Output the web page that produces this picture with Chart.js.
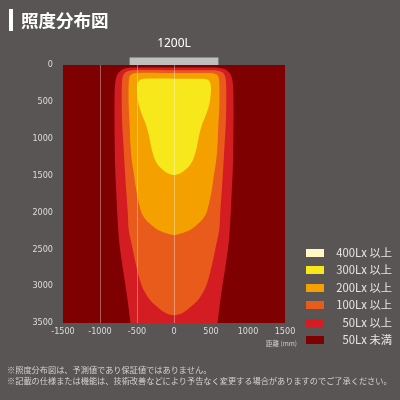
<!DOCTYPE html>
<html lang="ja">
<head>
  <meta charset="UTF-8" />
  <title>照度分布図</title>
  <script src="https://cdn.jsdelivr.net/npm/chart.js"></script>
  <style>
    html, body { margin: 0; padding: 0; }
    body { width: 400px; height: 400px; background: #595554; position: relative; overflow: hidden;
           font-family: "Noto Sans CJK JP", "Noto Sans", sans-serif; }
    #grafico { position: absolute; left: 0; top: 0; }
    .titulo { position: absolute; left: 9px; top: 9px; height: 22px; border-left: 4px solid #fff;
              padding-left: 8px; color: #fff; font-weight: bold; font-size: 17.5px; line-height: 22px; }
    .legenda { position: absolute; left: 306px; top: 248px; width: 86px; }
    .legenda .item { position: relative; height: 17.4px; }
    .legenda .cor { position: absolute; left: 0; top: 1px; width: 18px; height: 8px; }
    .legenda .txt { position: absolute; right: 0; top: -3px; color: #e6e6e6; font-size: 11.3px; line-height: 14px; white-space: nowrap; }
    .unidade { position: absolute; left: 266px; top: 338px; color: #cfcfcf; font-size: 6.5px; }
    .notas { position: absolute; left: 7px; top: 364px; color: #d2d2d2; font-size: 8.2px; line-height: 11px; white-space: nowrap; }
  </style>
</head>
<body>
  <canvas id="grafico" width="400" height="400"></canvas>
  <div class="titulo">照度分布図</div>
  <div class="legenda" id="legenda"></div>
  <div class="unidade">距離 (mm)</div>
  <div class="notas">
    ※照度分布図は、予測値であり保証値ではありません。<br>
    ※記載の仕様または機能は、技術改善などにより予告なく変更する場合がありますのでご了承ください。
  </div>

  <script>
    // eixos
    const xTicks = [-1500, -1000, -500, 0, 500, 1000, 1500];
    const yTicks = [0, 500, 1000, 1500, 2000, 2500, 3000, 3500];
    const xGridLines = [-1000, -500, 0];
    const lampWidth = 1200;
    const lampLabel = '1200L';

    // contornos (meia largura em mm por profundidade em mm)
    const lux300Y = [185, 185, 200, 250, 330, 450, 560, 680, 790, 930, 1050, 1150, 1280, 1360, 1430, 1475, 1492];
    const lux300W = [0, 400, 460, 492, 500, 490, 470, 430, 385, 345, 320, 300, 260, 215, 140, 70, 0];
    const lux200Y = [110, 110, 140, 220, 540, 800, 1085, 1300, 1470, 1700, 1850, 2000, 2100, 2200, 2260, 2295, 2305];
    const lux200W = [0, 520, 590, 611, 613, 600, 588, 570, 543, 510, 480, 440, 380, 270, 170, 60, 0];
    const lux100Y = [70, 70, 95, 150, 270, 600, 800, 1050, 1400, 1700, 2000, 2240, 2465, 2782, 3008, 3166, 3280, 3360, 3395];
    const lux100W = [0, 560, 650, 690, 705, 705, 700, 685, 665, 646, 625, 611, 565, 497, 430, 340, 227, 120, 0];
    const lux50Y  = [35, 35, 55, 120, 250, 500, 1000, 1400, 1700, 2100, 2400, 2700, 3150, 3500, 3700];
    const lux50W  = [0, 560, 680, 760, 795, 804, 802, 795, 781, 762, 740, 700, 632, 588, 560];

    // legenda
    const legendLabels = ['400Lx 以上', '300Lx 以上', '200Lx 以上', '100Lx 以上', '50Lx 以上', '50Lx 未満'];
    const legendColors = ['#fff7c4', '#f6e81a', '#f4a100', '#e95b1a', '#d41d22', '#7f0000'];

    function contorno(ys, ws) {
      const esq = ys.map((y, i) => ({ x: -ws[i], y: y }));
      const dir = [];
      for (let i = ys.length - 1; i >= 0; i--) {
        if (ws[i] > 0) dir.push({ x: ws[i], y: ys[i] });
      }
      return esq.concat(dir);
    }

    function camada(ys, ws, cor) {
      return {
        data: contorno(ys, ws),
        showLine: true,
        fill: 'shape',
        backgroundColor: cor,
        borderWidth: 0,
        pointRadius: 0,
        tension: 0.3
      };
    }

    const fundoPlugin = {
      id: 'fundo',
      beforeDatasetsDraw(chart) {
        const a = chart.chartArea;
        const c = chart.ctx;
        c.save();
        c.fillStyle = legendColors[5];
        c.fillRect(a.left, a.top, a.right - a.left, a.bottom - a.top);
        c.restore();
      },
      afterDatasetsDraw(chart) {
        // linhas verticais por cima das camadas
        const a = chart.chartArea;
        const c = chart.ctx;
        c.save();
        c.strokeStyle = 'rgba(255,255,255,0.35)';
        c.lineWidth = 1;
        xGridLines.forEach(v => {
          const px = Math.round(chart.scales.x.getPixelForValue(v)) + 0.5;
          c.beginPath();
          c.moveTo(px, a.top);
          c.lineTo(px, a.bottom);
          c.stroke();
        });
        c.restore();
      },
      afterDraw(chart) {
        const a = chart.chartArea;
        const c = chart.ctx;
        const x1 = chart.scales.x.getPixelForValue(-lampWidth / 2);
        const x2 = chart.scales.x.getPixelForValue(lampWidth / 2);
        c.save();
        c.fillStyle = '#bfbfbf';
        c.fillRect(x1, a.top - 7.5, x2 - x1, 7.5);
        c.fillStyle = '#ffffff';
        c.font = '12px "Noto Sans", sans-serif';
        c.textAlign = 'center';
        c.textBaseline = 'alphabetic';
        c.fillText(lampLabel, (x1 + x2) / 2, a.top - 18);
        c.restore();
      }
    };

    const fonteEixo = { family: '"Liberation Sans Narrow", "DejaVu Sans Condensed", sans-serif', size: 9 };

    new Chart(document.getElementById('grafico'), {
      type: 'scatter',
      data: {
        datasets: [
          camada(lux300Y, lux300W, legendColors[1]),
          camada(lux200Y, lux200W, legendColors[2]),
          camada(lux100Y, lux100W, legendColors[3]),
          camada(lux50Y, lux50W, legendColors[4])
        ]
      },
      options: {
        responsive: false,
        animation: false,
        layout: { padding: { top: 65, right: 115, bottom: 0, left: 0 } },
        plugins: { legend: { display: false }, tooltip: { enabled: false } },
        scales: {
          x: {
            type: 'linear',
            min: -1500,
            max: 1500,
            afterFit: s => { s.height = 77; },
            afterBuildTicks: s => { s.ticks = xTicks.map(v => ({ value: v })); },
            border: { display: false },
            grid: { display: false, drawTicks: false },
            ticks: { color: '#dcdcdc', font: fonteEixo, padding: 3, maxRotation: 0, callback: v => String(v) }
          },
          y: {
            type: 'linear',
            min: 0,
            max: 3500,
            reverse: true,
            afterFit: s => { s.width = 63; },
            afterBuildTicks: s => { s.ticks = yTicks.map(v => ({ value: v })); },
            border: { display: false },
            grid: { display: false, drawTicks: false },
            ticks: { color: '#dcdcdc', font: fonteEixo, padding: 10, callback: v => String(v) }
          }
        }
      },
      plugins: [fundoPlugin]
    });

    // LEGENDA
    const leg = document.getElementById('legenda');
    legendLabels.forEach((t, i) => {
      const d = document.createElement('div');
      d.className = 'item';
      d.innerHTML = '<span class="cor" style="background:' + legendColors[i] + '"></span><span class="txt">' + t + '</span>';
      leg.appendChild(d);
    });
  </script>
</body>
</html>
